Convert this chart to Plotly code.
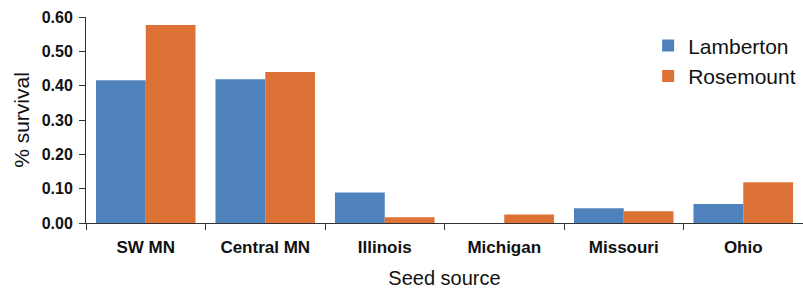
import plotly.graph_objects as go

categories = ["SW MN", "Central MN", "Illinois", "Michigan", "Missouri", "Ohio"]
lamberton = [0.416, 0.419, 0.089, 0.0, 0.043, 0.055]
rosemount = [0.577, 0.440, 0.017, 0.025, 0.034, 0.119]
y_ticks = [0.0, 0.1, 0.2, 0.3, 0.4, 0.5, 0.6]

BLUE = "#4F81BD"
ORANGE = "#DD7236"
FAM = "Liberation Sans, Arial, sans-serif"

fig = go.Figure()
fig.add_trace(go.Bar(name="Lamberton", x=categories, y=lamberton, marker=dict(color=BLUE, line=dict(width=0))))
fig.add_trace(go.Bar(name="Rosemount", x=categories, y=rosemount, marker=dict(color=ORANGE, line=dict(width=0))))

fig.update_layout(
    width=803, height=289,
    margin=dict(l=86, r=0, t=17, b=66),
    paper_bgcolor="white", plot_bgcolor="white",
    barmode="group", bargap=0.167, bargroupgap=0,
    font=dict(family=FAM, color="#111111"),
    legend=dict(x=0.784, y=0.959, xanchor="left", yanchor="top",
                font=dict(size=21, family=FAM, color="#111111"),
                bgcolor="rgba(0,0,0,0)", borderwidth=0, tracegroupgap=0,
                itemwidth=30),
    showlegend=True,
)
fig.update_xaxes(
    type="category", tickson="boundaries", ticks="outside", ticklen=6, tickcolor="#333333",
    showline=True, linecolor="#333333", linewidth=1, showgrid=False, automargin=False,
    ticklabelstandoff=9,
    tickfont=dict(family=FAM, size=17, color="#111111", weight="bold"),
    title=dict(text="Seed source", font=dict(size=20, family=FAM, color="#111111"), standoff=14),
)
fig.update_yaxes(
    range=[0, 0.6], tickvals=y_ticks, tickformat=".2f", ticks="outside", ticklen=6, tickcolor="#333333",
    showline=True, linecolor="#333333", linewidth=1, showgrid=False, zeroline=False, automargin=False,
    ticklabelstandoff=3,
    tickfont=dict(family=FAM, size=16, color="#111111", weight="bold"),
    title=dict(text="% survival", font=dict(size=21, family=FAM, color="#111111"), standoff=6),
)

fig.write_html("out.html", config={"displayModeBar": False},
               post_script="document.body.style.margin='0';document.body.style.overflow='hidden';")
